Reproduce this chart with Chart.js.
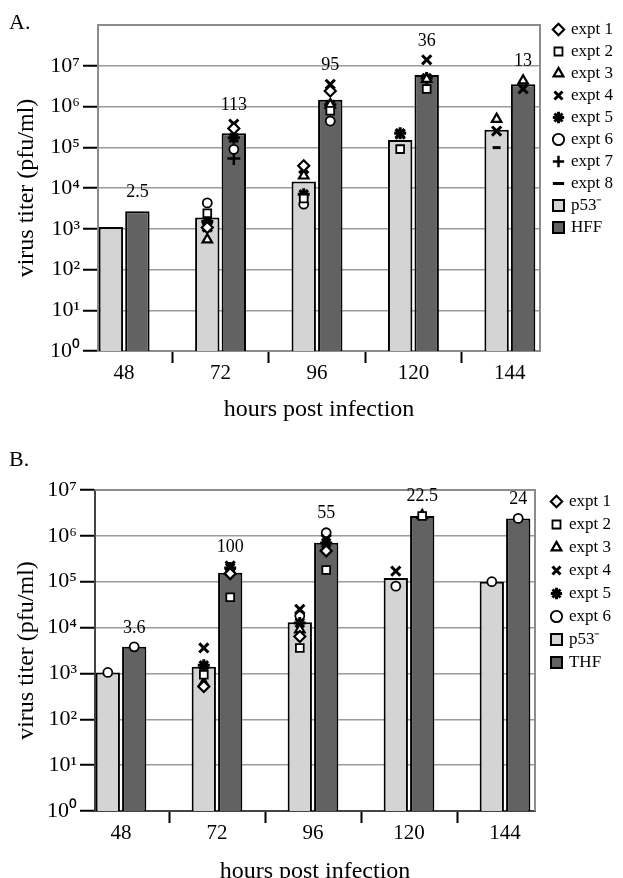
<!DOCTYPE html>
<html>
<head>
<meta charset="utf-8">
<script src="https://cdn.jsdelivr.net/npm/chart.js@4.4.1/dist/chart.umd.min.js"></script>
<style>
  body { margin: 0; width: 623px; height: 878px; overflow: hidden; background: #fff; position: relative; font-family: 'Liberation Serif', serif; }
  canvas { position: absolute; left: 0; }
  #chartA { top: 0; }
  #chartB { top: 420px; }
  .tag { position: absolute; left: 9px; font-size: 22px; line-height: 22px; color: #000; }
</style>
</head>
<body>
<canvas id="chartA" width="623" height="424"></canvas>
<canvas id="chartB" width="623" height="466"></canvas>
<div class="tag" style="top:11px">A.</div>
<div class="tag" style="top:448px">B.</div>
<script>
// data
let hours = [48, 72, 96, 120, 144];
let decades = [1, 1e1, 1e2, 1e3, 1e4, 1e5, 1e6, 1e7];
let exptNames = ['expt 1', 'expt 2', 'expt 3', 'expt 4', 'expt 5', 'expt 6', 'expt 7', 'expt 8'];
let exptShapes = ['rectRot', 'rect', 'triangle', 'crossRot', 'star', 'circle', 'cross', 'line'];

// panel A : p53- vs HFF
let aP53 = [1.1e3, 1.9e3, 1.45e4, 1.5e5, 2.7e5];
let aHFF = [2.7e3, 2.2e5, 1.47e6, 5.9e6, 3.5e6];
let aRatio = ['2.5', '113', '95', '36', '13'];
let aExptP53 = [
  [null, 1.07e3, 3.5e4, null, null],
  [null, 2.4e3, 5.5e3, 9e4, null],
  [null, 5.4e2, 2.0e4, null, 4.9e5],
  [null, 1.1e3, 3.0e4, 2.1e5, 2.5e5],
  [null, 1.5e3, 7e3, 2.2e5, null],
  [null, 4.3e3, 4e3, null, null],
  [null, null, null, null, null],
  [null, null, null, null, 9.8e4]
];
let aExptHFF = [
  [null, 2.9e5, 2.4e6, null, null],
  [null, null, 7.9e5, 2.7e6, null],
  [null, null, 1.1e6, 4.7e6, 4.3e6],
  [null, 3.7e5, 3.5e6, 1.4e7, 2.7e6],
  [null, 1.7e5, 1.1e6, 5.0e6, null],
  [null, 8.9e4, 4.4e5, null, null],
  [null, 5.3e4, null, null, null],
  [null, null, null, null, null]
];

// panel B : p53- vs THF
let bP53 = [1.05e3, 1.4e3, 1.3e4, 1.2e5, 1.0e5];
let bTHF = [3.8e3, 1.56e5, 7.1e5, 2.7e6, 2.4e6];
let bRatio = ['3.6', '100', '55', '22.5', '24'];
let bExptP53 = [
  [null, 5.2e2, 6.4e3, null, null],
  [null, 9.4e2, 3.6e3, null, null],
  [null, 6.1e2, 9e3, null, null],
  [null, 3.6e3, 2.5e4, 1.7e5, null],
  [null, 1.5e3, 1.26e4, null, null],
  [1.05e3, null, 1.8e4, 8e4, 1.0e5]
];
let bExptTHF = [
  [null, 1.5e5, 4.7e5, null, null],
  [null, 4.6e4, 1.8e5, 2.7e6, null],
  [null, 1.7e5, null, 2.8e6, null],
  [null, 2.2e5, 8.4e5, null, null],
  [null, 2.0e5, 7e5, null, null],
  [3.8e3, null, 1.17e6, null, 2.4e6]
];

const SERIF = "'Liberation Serif', 'Times New Roman', serif";
const LIGHT = '#d4d4d4';
const DARK = '#626262';
const sup = ['\u2070', '\u00b9', '\u00b2', '\u00b3', '\u2074', '\u2075', '\u2076', '\u2077', '\u2078'];
const markStyle = {
  rectRot: { r: 5.5, w: 2.2 }, rect: { r: 5.5, w: 1.8 }, triangle: { r: 5.5, w: 2.2 }, crossRot: { r: 6.5, w: 3 },
  star: { r: 6, w: 3 }, circle: { r: 4.5, w: 1.8 }, cross: { r: 6.5, w: 2.5 }, line: { r: 4, w: 3 }
};
let tickHours = [48, 60, 72, 84, 96, 108, 120, 132, 144];

Chart.defaults.font.family = SERIF;
Chart.defaults.color = '#000';

function swatch(fill) {
  let c = document.createElement('canvas');
  c.width = 13; c.height = 13;
  let g = c.getContext('2d');
  g.fillStyle = fill;
  g.fillRect(1, 1, 11, 11);
  g.strokeStyle = '#000';
  g.lineWidth = 2;
  g.strokeRect(1, 1, 11, 11);
  return c;
}

// put each marker over its own bar (p53 or the other cell line)
const alignMarks = {
  id: 'alignMarks',
  beforeDatasetsDraw(chart) {
    let sets = chart.data.datasets;
    let lo = sets.length - 2;
    sets.forEach((ds, d) => {
      if (ds.type !== 'scatter') return;
      chart.getDatasetMeta(d).data.forEach((pt, j) => {
        let raw = ds.data[j];
        pt.x = chart.getDatasetMeta(lo + raw.bar).data[hours.indexOf(raw.x)].x;
      });
    });
  }
};

const frame = {
  id: 'frame',
  beforeDatasetsDraw(chart, args, opts) {
    let { left, right, top, bottom } = chart.chartArea;
    let ctx = chart.ctx;
    ctx.save();
    ctx.strokeStyle = opts.color;
    ctx.lineWidth = 2;
    ctx.beginPath();
    ctx.moveTo(left, top);
    ctx.lineTo(right, top);
    ctx.lineTo(right, bottom);
    ctx.stroke();
    ctx.restore();
  }
};

const ratioLabels = {
  id: 'ratios',
  afterDatasetsDraw(chart, args, opts) {
    let ctx = chart.ctx;
    let y = chart.scales.y;
    let sets = chart.data.datasets;
    let hi = sets.length - 1;
    let bars = chart.getDatasetMeta(hi).data;
    ctx.save();
    ctx.font = '18px ' + SERIF;
    ctx.fillStyle = '#000';
    ctx.textAlign = 'center';
    ctx.textBaseline = 'middle';
    hours.forEach((h, i) => {
      let top = sets[hi].data[i].y;
      sets.forEach(ds => {
        if (ds.type !== 'scatter') return;
        ds.data.forEach(pt => { if (pt.bar === 1 && pt.x === h) top = Math.max(top, pt.y); });
      });
      ctx.fillText(opts.text[i], bars[i].x, y.getPixelForValue(top) - opts.lift);
    });
    ctx.restore();
  }
};

function makeChart(id, p) {
  let datasets = [];
  p.exptLo.forEach((vals, e) => {
    let pts = [];
    hours.forEach((h, i) => {
      if (vals[i] != null) pts.push({ x: h, y: vals[i], bar: 0 });
      if (p.exptHi[e][i] != null) pts.push({ x: h, y: p.exptHi[e][i], bar: 1 });
    });
    let shape = exptShapes[e];
    let st = markStyle[shape];
    datasets.push({
      type: 'scatter', label: exptNames[e], data: pts,
      pointStyle: shape, pointRadius: st.r, pointHoverRadius: st.r,
      borderWidth: st.w, pointBorderWidth: st.w,
      borderColor: '#000', pointBorderColor: '#000',
      backgroundColor: '#fff', pointBackgroundColor: '#fff'
    });
  });
  datasets.push({
    label: 'p53\u207b', data: hours.map((h, i) => ({ x: h, y: p.lo[i] })),
    backgroundColor: LIGHT, borderColor: '#000', borderWidth: 2, pointStyle: swatch(LIGHT),
    categoryPercentage: 1.1, barPercentage: 0.92
  });
  datasets.push({
    label: p.hiName, data: hours.map((h, i) => ({ x: h, y: p.hi[i] })),
    backgroundColor: DARK, borderColor: '#000', borderWidth: 2, pointStyle: swatch(DARK),
    categoryPercentage: 1.1, barPercentage: 0.92
  });

  return new Chart(document.getElementById(id), {
    type: 'bar',
    data: { datasets: datasets },
    plugins: [alignMarks, frame, ratioLabels],
    options: {
      responsive: false,
      animation: false,
      events: [],
      layout: { padding: { top: p.padTop, right: p.padRight, bottom: 0, left: 0 } },
      scales: {
        x: {
          type: 'linear', min: 41.5, max: 151.5, offset: false,
          afterBuildTicks: s => { s.ticks = tickHours.map(v => ({ value: v })); },
          afterFit: s => { s.height = s.chart.height - p.box.bottom; },
          ticks: { callback: v => (v % 24 ? '' : String(v)), color: '#000', font: { size: 21 }, padding: -2, maxRotation: 0, autoSkip: false },
          grid: {
            drawOnChartArea: false, offset: false, tickLength: 12, tickWidth: 2,
            tickColor: c => (c.tick && c.tick.value % 24 ? '#000' : 'rgba(0,0,0,0)')
          },
          border: { color: p.axisColor, width: 2 },
          title: { display: true, text: 'hours post infection', color: '#000', font: { size: 24 }, padding: 0 }
        },
        y: {
          type: 'logarithmic', min: 1, max: p.yMax,
          afterBuildTicks: s => { s.ticks = decades.map(v => ({ value: v })); },
          afterFit: s => { s.width = p.box.left; },
          ticks: { callback: v => '10' + sup[Math.round(Math.log10(v))], color: '#000', font: { size: 22 }, padding: 3 },
          grid: { color: '#9a9a9a', lineWidth: 1.5, tickLength: 15, tickWidth: 2, tickColor: '#000' },
          border: { color: p.axisColor, width: 2 },
          title: { display: true, text: 'virus titer (pfu/ml)', color: '#000', font: { size: 24 }, padding: { top: 12, bottom: 0 } }
        },
        padTop: {
          type: 'linear', position: 'top', axis: 'x',
          ticks: { display: false }, grid: { display: false }, border: { display: false },
          afterFit: s => { s.height = p.box.top - p.padTop; }
        },
        padRight: {
          type: 'linear', position: 'right', axis: 'y',
          ticks: { display: false }, grid: { display: false }, border: { display: false },
          afterFit: s => { s.width = s.chart.width - p.padRight - s.chart.legend.width - p.box.right; }
        }
      },
      plugins: {
        legend: {
          position: 'right', align: 'start',
          labels: { usePointStyle: true, boxWidth: 8, boxHeight: 8, padding: p.legendGap, color: '#000', font: { size: 17 } }
        },
        tooltip: { enabled: false },
        frame: { color: '#8c8c8c' },
        ratios: { text: p.ratio, lift: 19 }
      }
    }
  });
}

makeChart('chartA', {
  lo: aP53, hi: aHFF, hiName: 'HFF', ratio: aRatio, exptLo: aExptP53, exptHi: aExptHFF,
  yMax: 1e8, axisColor: '#8c8c8c',
  box: { left: 98, right: 540, top: 25, bottom: 351 },
  padTop: 16, padRight: 0, legendGap: 5
});

makeChart('chartB', {
  lo: bP53, hi: bTHF, hiName: 'THF', ratio: bRatio, exptLo: bExptP53, exptHi: bExptTHF,
  yMax: 1e7, axisColor: '#444',
  box: { left: 95, right: 535, top: 70, bottom: 391 },
  padTop: 67, padRight: 2, legendGap: 6
});
</script>
</body>
</html>
